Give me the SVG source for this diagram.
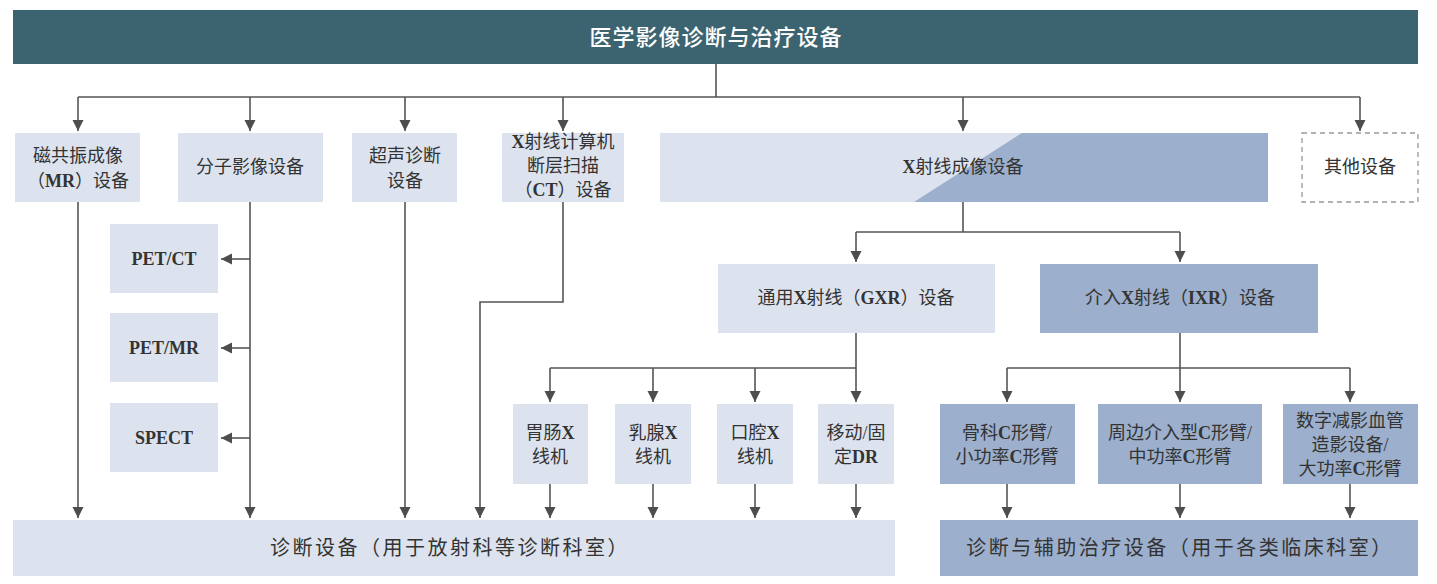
<svg xmlns="http://www.w3.org/2000/svg" width="1437" height="584" viewBox="0 0 1437 584">
<defs>
<marker id="ah" markerUnits="userSpaceOnUse" markerWidth="12" markerHeight="12" viewBox="0 0 12 12" refX="11" refY="6" orient="auto">
<path d="M0,0.5 L11,6 L0,11.5 Z" fill="#4d4d4d"/>
</marker>
<style>
.lt{fill:#dde3ee}
.dk{fill:#9cafcc}
.t{font-family:"Liberation Serif","Noto Sans CJK SC",serif;font-size:18px;fill:#333;text-anchor:middle;dominant-baseline:central}
.l{font-weight:bold;font-size:18px}
.b{font-size:20px;letter-spacing:2.5px}
.c path{fill:none;stroke:#555;stroke-width:1.6}
.c path.a{marker-end:url(#ah)}
</style>
</defs>
<rect width="1437" height="584" fill="#fff"/>
<g id="root">
<rect x="13" y="10" width="1405" height="54" fill="#3c6470"/>
<text class="t" x="716" y="37" style="font-size:22px;fill:#fff;font-weight:500;letter-spacing:1px">医学影像诊断与治疗设备</text>
</g>
<g id="connectors" class="c">
<path d="M716 64 V97 M78 97 H1360"/>
<path class="a" d="M78 97 V131"/><path class="a" d="M250 97 V131"/><path class="a" d="M405 97 V131"/><path class="a" d="M563 97 V131"/><path class="a" d="M963 97 V131"/><path class="a" d="M1360 97 V131"/>
<path class="a" d="M78 202 V518"/><path class="a" d="M250 202 V518"/><path class="a" d="M405 202 V518"/><path class="a" d="M563 202 V302 H480 V518"/>
<path class="a" d="M250 259 H221"/><path class="a" d="M250 348 H221"/><path class="a" d="M250 438 H221"/>
<path d="M963 202 V232 M856 232 H1180"/>
<path class="a" d="M856 232 V262"/><path class="a" d="M1180 232 V262"/>
<path d="M856 333 V368 M550 368 H856"/>
<path class="a" d="M550 368 V402"/><path class="a" d="M653 368 V402"/><path class="a" d="M755 368 V402"/><path class="a" d="M856 368 V402"/>
<path class="a" d="M550 484 V518"/><path class="a" d="M653 484 V518"/><path class="a" d="M755 484 V518"/><path class="a" d="M856 484 V518"/>
<path d="M1180 333 V368 M1007 368 H1350"/>
<path class="a" d="M1007 368 V402"/><path class="a" d="M1180 368 V402"/><path class="a" d="M1350 368 V402"/>
<path class="a" d="M1007 484 V518"/><path class="a" d="M1180 484 V518"/><path class="a" d="M1350 484 V518"/>
</g>
<g id="mr"><rect class="lt" x="15" y="133" width="125" height="69"/><text class="t" x="78" y="156">磁共振成像</text><text class="t" x="78" y="181">（<tspan class="l">MR</tspan>）设备</text></g>
<g id="molecular"><rect class="lt" x="178" y="133" width="145" height="69"/><text class="t" x="250" y="167">分子影像设备</text></g>
<g id="ultrasound"><rect class="lt" x="352" y="133" width="105" height="69"/><text class="t" x="405" y="156">超声诊断</text><text class="t" x="405" y="181">设备</text></g>
<g id="ct"><rect class="lt" x="502" y="133" width="122" height="69"/><text class="t" x="563" y="142"><tspan class="l">X</tspan>射线计算机</text><text class="t" x="563" y="166">断层扫描</text><text class="t" x="563" y="190">（<tspan class="l">CT</tspan>）设备</text></g>
<g id="xray"><rect class="lt" x="660" y="133" width="608" height="69"/><polygon class="dk" points="1022,133 1268,133 1268,202 914,202"/><text class="t" x="963" y="167"><tspan class="l">X</tspan>射线成像设备</text></g>
<g id="other"><rect x="1302" y="133" width="116" height="69" fill="#fff" stroke="#999" stroke-width="1.3" stroke-dasharray="5,4"/><text class="t" x="1360" y="167">其他设备</text></g>
<g id="petct"><rect class="lt" x="110" y="224" width="108" height="69"/><text class="t l" x="164" y="259">PET/CT</text></g>
<g id="petmr"><rect class="lt" x="110" y="313" width="108" height="69"/><text class="t l" x="164" y="348">PET/MR</text></g>
<g id="spect"><rect class="lt" x="110" y="403" width="108" height="69"/><text class="t l" x="164" y="438">SPECT</text></g>
<g id="gxr"><rect class="lt" x="718" y="264" width="277" height="69"/><text class="t" x="856" y="298">通用<tspan class="l">X</tspan>射线（<tspan class="l">GXR</tspan>）设备</text></g>
<g id="ixr"><rect class="dk" x="1040" y="264" width="278" height="69"/><text class="t" x="1180" y="298">介入<tspan class="l">X</tspan>射线（<tspan class="l">IXR</tspan>）设备</text></g>
<g id="gi"><rect class="lt" x="513" y="404" width="75" height="80"/><text class="t" x="550" y="433">胃肠<tspan class="l">X</tspan></text><text class="t" x="550" y="457">线机</text></g>
<g id="breast"><rect class="lt" x="615" y="404" width="76" height="80"/><text class="t" x="653" y="433">乳腺<tspan class="l">X</tspan></text><text class="t" x="653" y="457">线机</text></g>
<g id="dental"><rect class="lt" x="717" y="404" width="76" height="80"/><text class="t" x="755" y="433">口腔<tspan class="l">X</tspan></text><text class="t" x="755" y="457">线机</text></g>
<g id="dr"><rect class="lt" x="818" y="404" width="76" height="80"/><text class="t" x="856" y="433">移动/固</text><text class="t" x="856" y="457">定<tspan class="l">DR</tspan></text></g>
<g id="ortho"><rect class="dk" x="940" y="404" width="135" height="80"/><text class="t" x="1007" y="433">骨科<tspan class="l">C</tspan>形臂/</text><text class="t" x="1007" y="457">小功率<tspan class="l">C</tspan>形臂</text></g>
<g id="peripheral"><rect class="dk" x="1098" y="404" width="164" height="80"/><text class="t" x="1180" y="433">周边介入型<tspan class="l">C</tspan>形臂/</text><text class="t" x="1180" y="457">中功率<tspan class="l">C</tspan>形臂</text></g>
<g id="dsa"><rect class="dk" x="1283" y="404" width="135" height="80"/><text class="t" x="1350" y="421">数字减影血管</text><text class="t" x="1350" y="445">造影设备/</text><text class="t" x="1350" y="469">大功率<tspan class="l">C</tspan>形臂</text></g>
<g id="diag"><rect class="lt" x="13" y="520" width="882" height="56"/><text class="t b" x="450" y="548">诊断设备（用于放射科等诊断科室）</text></g>
<g id="therapy"><rect class="dk" x="940" y="520" width="478" height="56"/><text class="t b" x="1180" y="548">诊断与辅助治疗设备（用于各类临床科室）</text></g>
</svg>
